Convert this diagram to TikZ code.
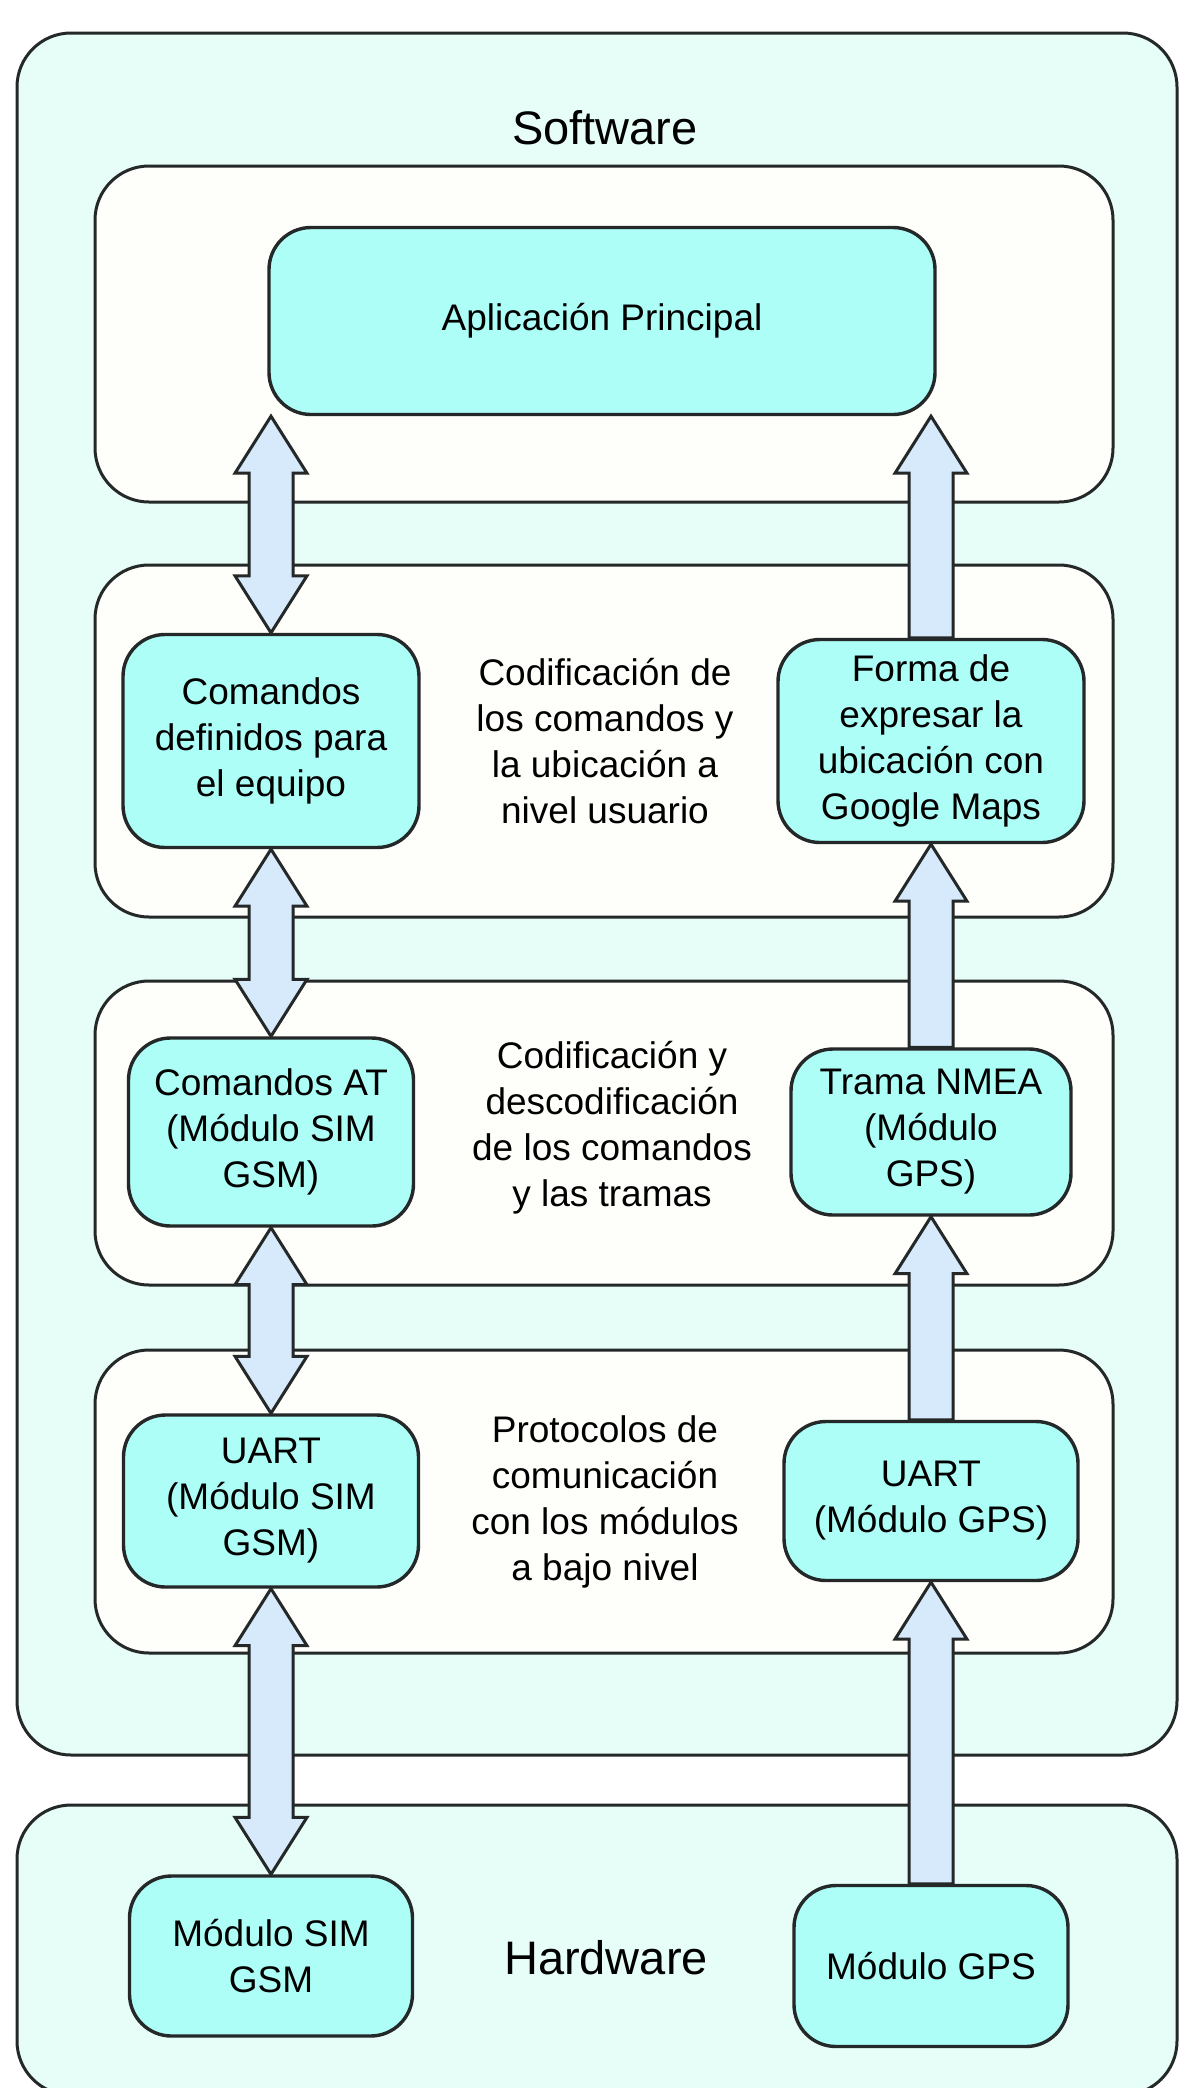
\documentclass[tikz,border=0pt]{standalone}
\usepackage{fontspec}
\setmainfont{Liberation Sans}
\usetikzlibrary{calc}

\definecolor{swback}{RGB}{230,254,247}
\definecolor{layerback}{RGB}{254,254,250}
\definecolor{modfill}{RGB}{172,254,247}
\definecolor{arrowfill}{RGB}{214,234,252}
\definecolor{edgegray}{RGB}{36,40,40}

\tikzset{
  area/.style={draw=edgegray, line width=1.5pt, fill=swback, rounded corners=27pt},
  layer/.style={draw=edgegray, line width=1.5pt, fill=layerback, rounded corners=27pt},
  module/.style={draw=edgegray, line width=1.7pt, fill=modfill, rounded corners=21pt,
    align=center, inner sep=0pt, font=\fontsize{18.5}{23}\selectfont},
  note/.style={align=center, font=\fontsize{18.5}{23}\selectfont},
  title/.style={font=\fontsize{23.5}{28}\selectfont},
  fat/.style={draw=edgegray, line width=1.5pt, fill=arrowfill, line join=miter}
}

\newcommand{\fatboth}[2]{%
  \draw[fat] (#1) -- ($(#1)+(36,57)$) -- ($(#1)+(22,57)$) -- ($(#2)+(22,-57)$)
    -- ($(#2)+(36,-57)$) -- (#2) -- ($(#2)+(-36,-57)$) -- ($(#2)+(-22,-57)$)
    -- ($(#1)+(-22,57)$) -- ($(#1)+(-36,57)$) -- cycle;}
\newcommand{\fatup}[2]{%
  \draw[fat] (#2) -- ($(#2)+(36,57)$) -- ($(#2)+(22,57)$) -- ($(#1)+(22,0)$)
    -- ($(#1)+(-22,0)$) -- ($(#2)+(-22,57)$) -- ($(#2)+(-36,57)$) -- cycle;}

\begin{document}
\begin{tikzpicture}[x=0.5pt, y=-0.5pt]
\useasboundingbox (0,0) rectangle (1181,2088);
\fill[white] (0,0) rectangle (1181,2088);

\draw[area] (17,33) rectangle (1177,1755);
\draw[area] (17,1805) rectangle (1177,2095);
\draw[layer] (95,166) rectangle (1113,502);
\draw[layer] (95,565) rectangle (1113,917);
\draw[layer] (95,981) rectangle (1113,1285);
\draw[layer] (95,1350) rectangle (1113,1653);

\node[title] (swLabel) at (605,128) {Software};
\node[title] (hwLabel) at (606,1958) {Hardware};

\node[module, minimum width=333pt, minimum height=93.5pt] (app) at (602,321) {Aplicación Principal};
\node[module, minimum width=148pt, minimum height=106.5pt] (cmdUser) at (271,741) {Comandos\\definidos para\\el equipo};
\node[module, minimum width=153pt, minimum height=101.5pt] (mapsFmt) at (931,741) {Forma de\\expresar la\\ubicación con\\Google Maps};
\node[module, minimum width=142.5pt, minimum height=94pt] (cmdAT) at (271,1132) {Comandos AT\\(Módulo SIM\\GSM)};
\node[module, minimum width=140pt, minimum height=83pt] (nmea) at (931,1132) {Trama NMEA\\(Módulo\\GPS)};
\node[module, minimum width=147.5pt, minimum height=86pt] (uartSim) at (271,1501) {UART\\(Módulo SIM\\GSM)};
\node[module, minimum width=147pt, minimum height=79.5pt] (uartGps) at (931,1501) {UART\\(Módulo GPS)};
\node[module, minimum width=141.5pt, minimum height=80pt] (simMod) at (271,1956) {Módulo SIM\\GSM};
\node[module, minimum width=137pt, minimum height=80.5pt] (gpsMod) at (931,1966) {Módulo GPS};

\node[note] (userNote) at (605,741) {Codificación de\\los comandos y\\la ubicación a\\nivel usuario};
\node[note] (frameNote) at (612,1128) {Codificación y\\descodificación\\de los comandos\\y las tramas};
\node[note] (lowNote) at (605,1502) {Protocolos de\\comunicación\\con los módulos\\a bajo nivel};

\coordinate (appL) at (cmdUser.north |- app.south);
\coordinate (appR) at (mapsFmt.north |- app.south);
\fatboth{appL}{cmdUser.north}
\fatboth{cmdUser.south}{cmdAT.north}
\fatboth{cmdAT.south}{uartSim.north}
\fatboth{uartSim.south}{simMod.north}
\fatup{gpsMod.north}{uartGps.south}
\fatup{uartGps.north}{nmea.south}
\fatup{nmea.north}{mapsFmt.south}
\fatup{mapsFmt.north}{appR}
\end{tikzpicture}
\end{document}
